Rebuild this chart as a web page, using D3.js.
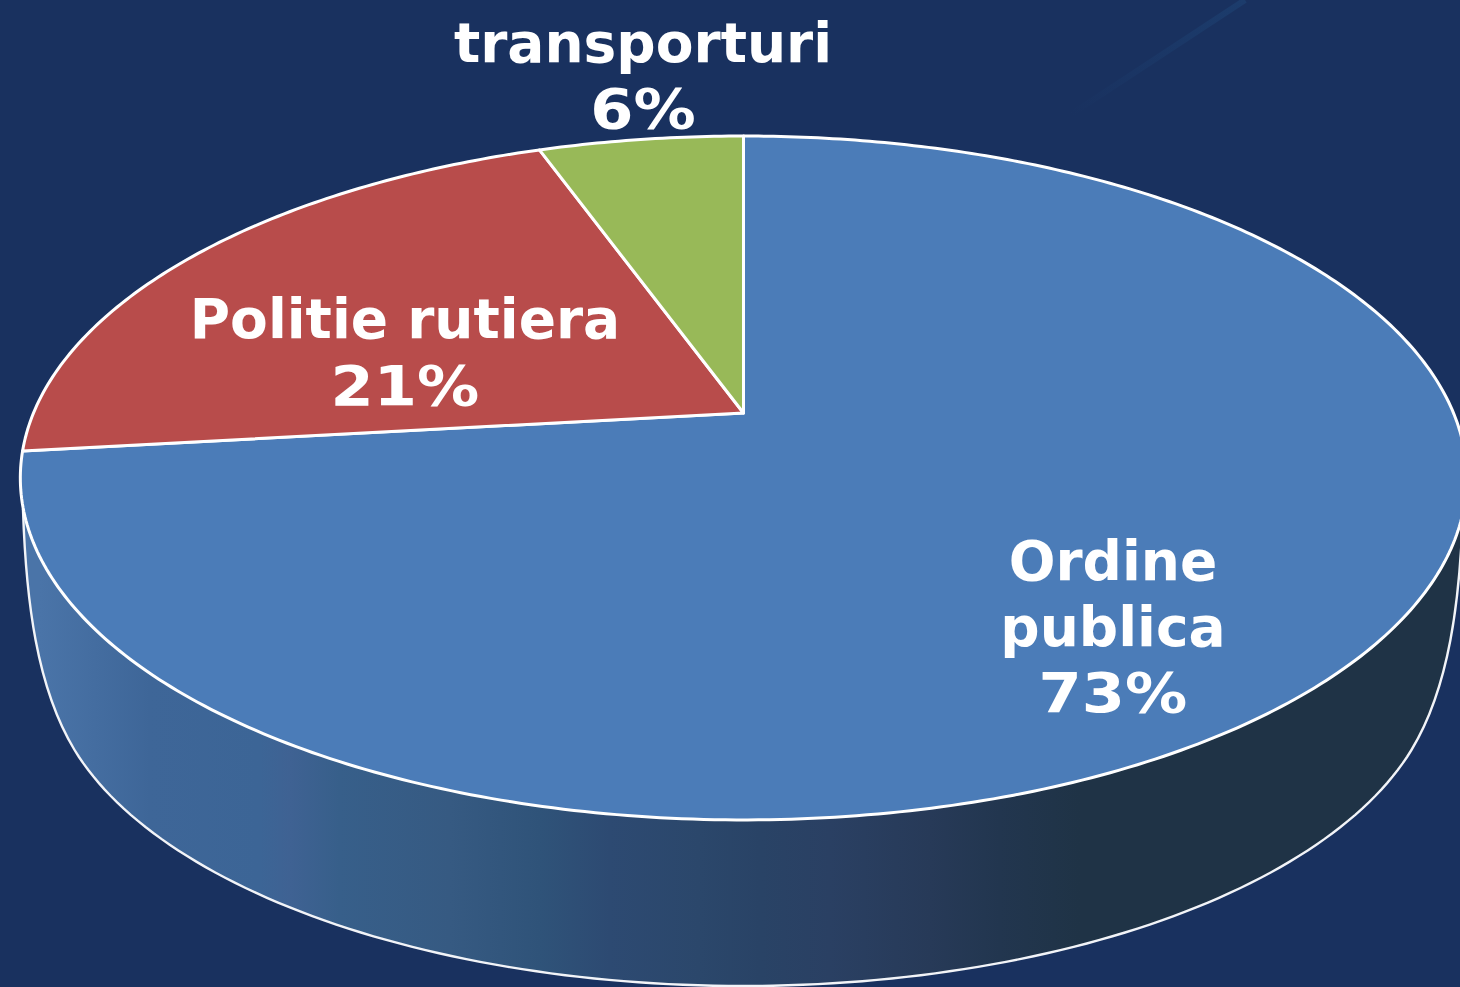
<!DOCTYPE html>
<html>
<head>
<meta charset="utf-8">
<script src="https://cdn.jsdelivr.net/npm/d3@7"></script>
<style>
  html, body { margin: 0; padding: 0; background: #19315f; overflow: hidden; }
  text { font-family: "DejaVu Sans", Verdana, sans-serif; font-weight: bold; fill: #fff; }
</style>
</head>
<body>
<svg id="chart" width="1460" height="987"></svg>
<script>
var categorie = ["Ordine publica", "Politie rutiera", "transporturi"];
var valori = [73.2, 21.3, 5.5];
var colori = ["#4b7cb8", "#b84c4b", "#98b958"];
var etichette = [["Ordine", "publica", "73%"], ["Politie rutiera", "21%"], ["transporturi", "6%"]];

// posizione delle etichette (x centro, y della prima riga, passo)
var posEtichette = [[1113, 580, 66], [405, 338, 67], [643, 62, 66]];

// colori del bordo laterale, a bande come nell'originale
var bandeX = [40, 150, 260, 290, 340, 450, 540, 610, 700, 760, 830, 930, 1000, 1080, 1460];
var bandeColori = ["#4a74a8", "#3e6698", "#3c6596", "#3f6293", "#375f8a", "#365a82", "#2f5379", "#2d4a72", "#2b476b", "#294366", "#2a4063", "#273a58", "#22364f", "#1f3346", "#1f3346"];

var W = 1460, H = 987;
var svg = d3.select("#chart");
var defs = svg.append("defs");

// prospettiva del disco: il centro non sta al centro dell'ellisse
var cx = 743.5, cy = 413, persp = 0.19, kx = 710, ky = 329.6;

function proietta(angolo, r) {
    var u = Math.sin(angolo) * r, v = Math.cos(angolo) * r;
    var d = 1 + persp * v;
    return [cx + kx * u / d, cy - ky * v / d];
}

var pie = d3.pie().sort(null);
var fette = pie(valori);

// sfumatura del fianco
var xBanda = d3.scaleLinear().domain([0, W]).range([0, 1]);
var grad = defs.append("linearGradient")
    .attr("id", "fianco")
    .attr("gradientUnits", "userSpaceOnUse")
    .attr("x1", 0).attr("x2", W).attr("y1", 0).attr("y2", 0);
bandeX.forEach(function (x, i) {
    grad.append("stop").attr("offset", xBanda(x)).attr("stop-color", bandeColori[i]);
});

// riflesso sfumato in alto a destra
var riflesso = defs.append("linearGradient")
    .attr("id", "riflesso")
    .attr("gradientUnits", "userSpaceOnUse")
    .attr("x1", 1245).attr("y1", 0).attr("x2", 1070).attr("y2", 115);
riflesso.append("stop").attr("offset", 0).attr("stop-color", "#1c3c6c");
riflesso.append("stop").attr("offset", 1).attr("stop-color", "#19315f");

defs.append("filter").attr("id", "sfoca")
    .append("feGaussianBlur").attr("stdDeviation", 0.5);

svg.append("rect").attr("width", W).attr("height", H).attr("fill", "#19315f");

svg.append("line")
    .attr("x1", 1245).attr("y1", 0).attr("x2", 1070).attr("y2", 115)
    .attr("stroke", "url(#riflesso)").attr("stroke-width", 6);

// fianco: curva di raccordo + ellisse inferiore
var bx = 743, by = 661, brx = 695, bry = 325;
var inizio = Math.asin((750 - by) / bry);
var passi = d3.range(0, 121).map(function (i) {
    var t = inizio + (Math.PI - 2 * inizio) * i / 120;
    return [bx - brx * Math.cos(t), by + bry * Math.sin(t)];
});
// maniglia tangente all'ellisse, cosi' non si vede lo spigolo
var manX = passi[0][0] - 0.2 * brx * Math.sin(inizio);
var manY = passi[0][1] - 0.2 * bry * Math.cos(inizio);
var p = d3.path();
p.moveTo(23, 510);
p.bezierCurveTo(26, 600, manX, manY, passi[0][0], passi[0][1]);
passi.forEach(function (q) { p.lineTo(q[0], q[1]); });
p.bezierCurveTo(2 * bx - manX, manY, 2 * bx - 26, 600, 2 * bx - 23, 510);
p.closePath();

svg.append("path")
    .attr("d", p.toString())
    .attr("fill", "url(#fianco)")
    .attr("stroke", "#f2f4f8")
    .attr("stroke-width", 2.4);

// fette del disco superiore
var linea = d3.line();
svg.selectAll("path.fetta")
    .data(fette)
    .enter()
    .append("path")
    .attr("class", "fetta")
    .attr("d", function (d) {
        var n = Math.max(8, Math.round((d.endAngle - d.startAngle) * 80));
        var punti = [[cx, cy]];
        d3.range(0, n + 1).forEach(function (i) {
            punti.push(proietta(d.startAngle + (d.endAngle - d.startAngle) * i / n, 1));
        });
        return linea(punti) + "Z";
    })
    .attr("fill", function (d, i) { return colori[i]; })
    .attr("stroke", "#fff")
    .attr("stroke-width", 3)
    .attr("stroke-linejoin", "round");

// etichette: le righe con la percentuale sono piu' larghe (come Verdana)
etichette.forEach(function (righe, i) {
    var pos = posEtichette[i];
    righe.forEach(function (riga, j) {
        var t = svg.append("text")
            .attr("class", "etichetta")
            .attr("data-categoria", categorie[i])
            .attr("text-anchor", "middle")
            .attr("font-size", 55)
            .attr("filter", "url(#sfoca)")
            .attr("x", pos[0])
            .attr("y", pos[1] + j * pos[2])
            .text(riga);
        if (riga.indexOf("%") >= 0) {
            t.attr("lengthAdjust", "spacingAndGlyphs")
                .attr("textLength", t.node().getComputedTextLength() * 1.13);
        }
    });
});
</script>
</body>
</html>
